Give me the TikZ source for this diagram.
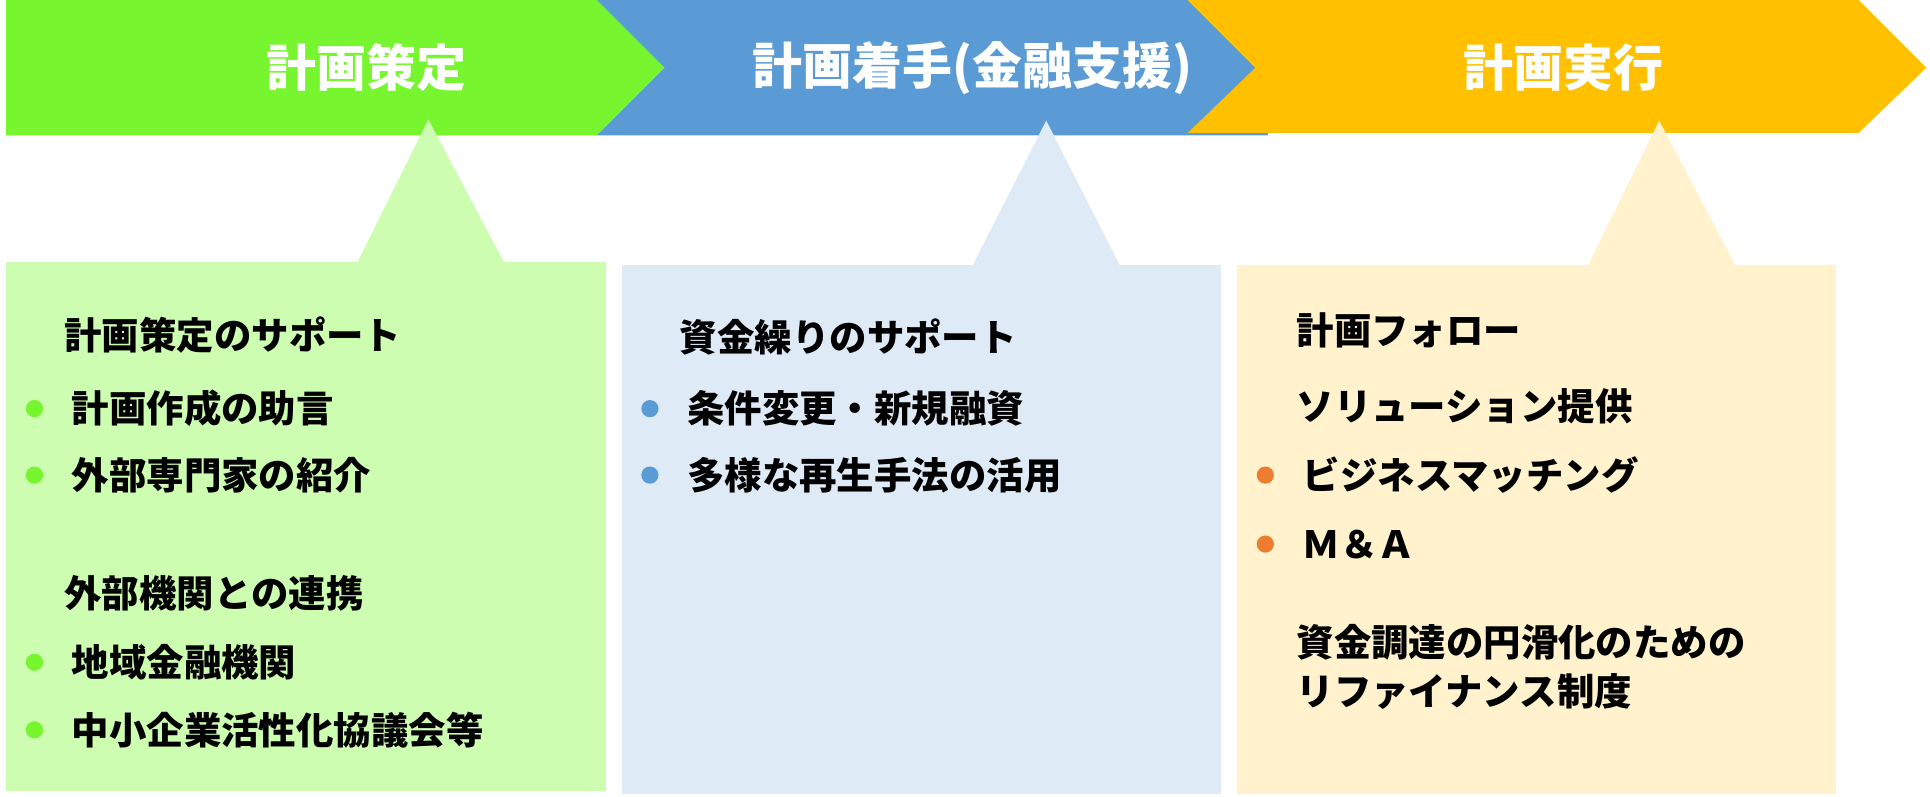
\documentclass[tikz,border=0pt]{standalone}
\usepackage{fontspec}
\newfontfamily\jp{Noto Sans CJK JP}
\definecolor{cg}{HTML}{77F52F}
\definecolor{cb}{HTML}{5B9BD5}
\definecolor{cy}{HTML}{FFC000}
\definecolor{lg}{HTML}{CCFDB0}
\definecolor{lb}{HTML}{DEEBF7}
\definecolor{ly}{HTML}{FFF2CC}
\definecolor{co}{HTML}{ED7D31}
\begin{document}
\begin{tikzpicture}[x=0.5pt,y=-0.5pt,
 ttl/.style={text=white,font=\jp\bfseries\fontsize{20.3}{24}\selectfont},
 txt/.style={anchor=west,inner sep=0pt,font=\jp\bfseries\fontsize{15.2}{18}\selectfont},
 dot/.style={circle,inner sep=0pt,minimum size=7pt}]
\useasboundingbox (0,0) rectangle (1568,647);
\fill[cg] (5,0)--(485,0)--(540,55)--(485,110)--(5,110)--cycle;
\fill[cb] (485,0)--(965,0)--(1020,55)--(975,108)--(1030,108)--(1030,110)--(485,110)--(540,55)--cycle;
\fill[cy] (965,0)--(1510,0)--(1565,55)--(1510,108)--(965,108)--(1020,55)--cycle;
\node[ttl] (t1) at (298,55) {計画策定};
\node[ttl] (t2) at (790,55) {計画着手(金融支援)};
\node[ttl] (t3) at (1270,55) {計画実行};
\fill[lg] (5,213) rectangle (492,643);
\fill[lg] (348,97)--(410,214)--(290,214)--cycle;
\fill[lb] (505,215) rectangle (992,645);
\fill[lb] (850,98)--(910,216)--(790,216)--cycle;
\fill[ly] (1005,215) rectangle (1492,645);
\fill[ly] (1348,98)--(1410,216)--(1290,216)--cycle;
% green
\node[txt] (g1) at (52,272) {計画策定のサポート};
\node[dot,fill=cg] (gd1) at (28,332) {}; \node[txt] (g2) at (58,332) {計画作成の助言};
\node[dot,fill=cg] (gd2) at (28,386) {}; \node[txt] (g3) at (58,386) {外部専門家の紹介};
\node[txt] (g4) at (52,482) {外部機関との連携};
\node[dot,fill=cg] (gd3) at (28,538) {}; \node[txt] (g5) at (58,538) {地域金融機関};
\node[dot,fill=cg] (gd4) at (28,593) {}; \node[txt] (g6) at (58,593) {中小企業活性化協議会等};
% blue
\node[txt] (b1) at (552,274) {資金繰りのサポート};
\node[dot,fill=cb] (bd1) at (528,332) {}; \node[txt] (b2) at (558,332) {条件変更・新規融資};
\node[dot,fill=cb] (bd2) at (528,386) {}; \node[txt] (b3) at (558,386) {多様な再生手法の活用};
% yellow
\node[txt] (y1) at (1053,268) {計画フォロー};
\node[txt] (y2) at (1053,330) {ソリューション提供};
\node[dot,fill=co] (yd1) at (1028,386) {}; \node[txt] (y3) at (1058,386) {ビジネスマッチング};
\node[dot,fill=co] (yd2) at (1028,442) {}; \node[txt] (y4) at (1058,442) {Ｍ＆Ａ};
\node[txt] (y5) at (1053,522) {資金調達の円滑化のための};
\node[txt] (y6) at (1053,562) {リファイナンス制度};
\end{tikzpicture}
\end{document}
